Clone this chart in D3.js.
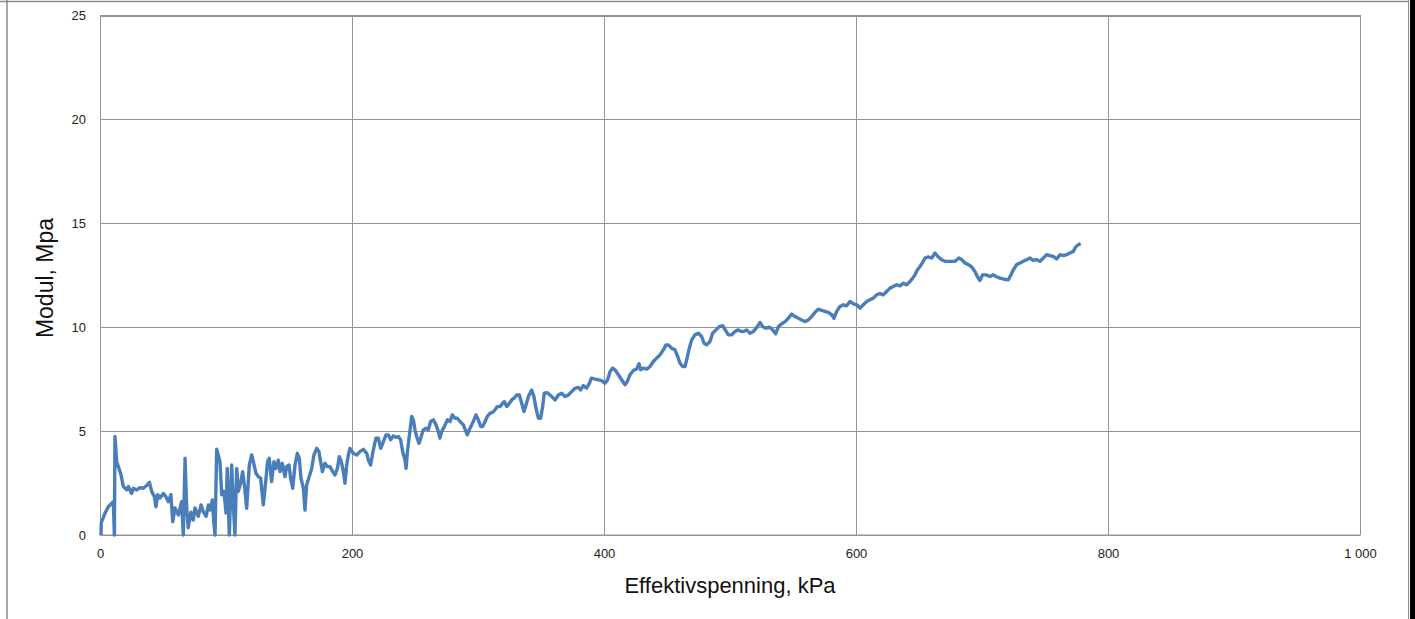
<!DOCTYPE html>
<html>
<head>
<meta charset="utf-8">
<script src="https://cdn.jsdelivr.net/npm/d3@7"></script>
<style>
html,body{margin:0;padding:0;background:#fff;}
svg{display:block;font-family:"Liberation Sans",Arial,sans-serif;}
</style>
</head>
<body>
<svg id="chart" width="1415" height="619"></svg>
<script>
const xTicks = [0, 200, 400, 600, 800, 1000];
const yTicks = [0, 5, 10, 15, 20, 25];
const xTitle = "Effektivspenning, kPa";
const yTitle = "Modul, Mpa";

const stress = [0.8,1,4,6.6,10.6,11.4,11.9,13.2,14.5,16.7,18.5,21.2,22.5,25.1,26.5,29.1,31.7,34.4,37,39.2,41,43.1,44.4,45.8,47.6,50.3,52.1,54.2,56.3,57.7,59.5,62.2,64.8,66.1,67.5,68.8,70,72.2,74,75.4,78,80.2,82,84.2,86,87.3,89.2,90.2,91.3,92.6,95.2,96.6,98.4,100,101,102.6,104.5,105.8,107.1,108.5,109.8,111.6,113.2,114.6,116.4,118.5,120.4,121.7,123.8,125.6,127.5,129.6,131.5,133,134.3,136.2,138,139.6,141.5,142.9,144.7,146.8,148.1,150,151.3,152.9,154.8,156.6,158.2,159.5,161.4,162.7,164,166.1,168,169.8,172,173.8,175.1,176.5,178.6,180.4,182.5,184.7,186.5,188.4,189.9,191.5,193.4,194.4,195.8,197.1,198.4,201,203.7,206.3,209,211.7,213,214.8,216.9,219,220.9,222.8,224.9,227,228.8,230.7,232.8,234.9,236.8,238.6,240.2,242.1,242.9,244,245.6,247.4,248.7,250,251.3,253.2,254.5,256.6,258.7,260.6,262.4,264.6,266.7,268.5,269.8,271.2,273.3,275.7,277.8,279.6,281.7,283.6,285.7,288.4,290.5,291.5,293.1,295,296.8,298.4,300.3,302.1,303.7,305.6,307.4,309.5,311.6,313.5,315.3,317.5,319.6,320.9,322.8,324.9,326.7,328.6,330.7,332.8,334.7,336.5,338.1,340,342.6,344.4,346,347.9,349.7,351.3,352.6,355,358.5,361.1,363.8,366.4,369,371.7,374.3,377,379.6,381.5,383.6,386.2,388.4,390,392.9,395.5,398.1,400.8,402.9,404.8,406.9,408.7,411.4,414,416.7,418.5,420.6,423.3,425.9,427.8,429.1,431.2,433.9,436.5,439.2,441.8,444.4,447.1,449.2,451.1,453.7,456.3,458.5,460.3,462.4,464.3,465.6,467.7,469.6,472.2,474.9,477.5,479.4,481.5,484.1,486.2,488.9,491.5,494.2,496,498.7,501.3,503.9,506.6,508.6,510.6,513.2,515.9,518.5,521.7,523.8,525.9,528.6,531.2,533.9,536.2,538.4,541,543.7,546.3,548.9,551.6,554.2,556.9,559.5,562.2,564.8,567.5,570.1,572.8,575.4,578,580.7,582.5,584.7,587.3,590,592.6,595.2,597.9,600.5,603.2,605.8,608.5,611.1,613.8,616.4,619,621.7,624.3,627,629.6,632.3,634.9,637.6,640.2,642.9,645,646.8,648.7,650.8,652.9,654.8,657.4,660.1,662.7,665.3,668,670.6,674.6,678.6,681.7,683.9,686.5,689.2,691.8,694.4,696.3,698.4,700.5,703.2,706.3,709,711.1,714.3,717.5,720.9,723,724.9,727.5,730.2,732.8,735.4,738.1,740.7,743.4,746,748.7,751.3,754,756.6,759.3,761.9,764.6,767.2,769.8,772.5,774.3,776.4,778.3];
const modulus = [0,0.6,1.05,1.36,1.6,0,4.74,3.53,3.3,2.89,2.33,2.17,2.33,2.0,2.25,2.17,2.28,2.25,2.38,2.54,2.1,1.86,1.36,1.94,1.78,2.0,1.86,1.6,1.94,0.64,1.3,0.96,1.6,0,3.69,1.3,0.35,1.1,0.72,1.3,0.9,1.45,1.12,0.9,1.45,1.2,1.69,0.72,0,4.13,3.53,1.93,2.1,1.06,3.2,0,3.37,1.45,0,3.2,2.1,2.49,3.05,2.41,1.28,3.37,3.85,3.53,2.97,2.81,2.73,1.45,2.57,3.53,3.69,2.57,3.53,3.2,3.6,3.05,3.45,2.81,3.29,3.37,2.73,2.25,3.37,3.93,3.69,2.73,2.25,1.2,2.41,2.81,3.2,3.85,4.17,4.01,3.53,3.05,3.45,3.29,3.29,3.05,2.89,3.2,3.77,3.53,2.97,2.49,3.37,3.85,4.17,3.93,3.85,4.01,4.12,3.93,3.61,3.37,4.09,4.66,4.66,4.17,4.49,4.82,4.82,4.58,4.77,4.7,4.74,4.58,4.01,3.61,3.21,4.01,4.82,5.7,5.54,5.06,4.74,4.41,4.66,5.06,5.14,5.06,5.46,5.54,5.3,4.98,4.66,4.98,5.22,5.54,5.46,5.78,5.62,5.62,5.46,5.3,4.98,4.82,5.06,5.3,5.54,5.78,5.54,5.22,5.22,5.46,5.7,5.86,5.9,6.02,6.18,6.18,6.34,6.42,6.18,6.34,6.5,6.58,6.74,6.74,6.34,5.94,6.26,6.66,6.98,6.66,6.1,5.62,5.62,6.18,6.82,6.85,6.66,6.5,6.74,6.82,6.66,6.74,6.9,7.06,7.11,6.98,7.19,7.06,7.3,7.55,7.5,7.47,7.43,7.3,7.47,7.87,8.03,7.95,7.71,7.47,7.23,7.39,7.71,7.92,7.98,8.24,7.95,8.03,7.98,8.11,8.35,8.51,8.67,8.91,9.15,9.15,8.99,8.91,8.59,8.27,8.11,8.11,8.43,8.99,9.39,9.63,9.71,9.55,9.23,9.15,9.31,9.71,9.87,10.03,10.07,9.9,9.63,9.63,9.79,9.87,9.8,9.79,9.87,9.71,9.79,10.03,10.23,10.03,9.95,10.0,9.87,9.68,10.03,10.16,10.27,10.43,10.63,10.51,10.43,10.35,10.27,10.35,10.51,10.72,10.87,10.81,10.76,10.71,10.6,10.43,10.76,11.0,11.08,11.03,11.24,11.12,11.08,10.92,11.08,11.24,11.32,11.4,11.56,11.62,11.56,11.72,11.88,11.96,12.04,11.99,12.12,12.04,12.2,12.36,12.52,12.76,12.92,13.12,13.33,13.38,13.33,13.57,13.38,13.25,13.17,13.17,13.17,13.33,13.25,13.09,13.01,12.9,12.68,12.44,12.25,12.52,12.52,12.44,12.52,12.44,12.36,12.31,12.28,12.52,12.76,13.01,13.09,13.17,13.25,13.33,13.22,13.25,13.17,13.33,13.49,13.44,13.41,13.28,13.49,13.44,13.49,13.57,13.65,13.86,13.97,14.02];

const svg = d3.select("#chart");
const W = 1415, H = 619;
const pLeft = 100, pRight = 1360, pTop = 15.5, pBottom = 535;

// outer frame
svg.append("line").attr("x1",7).attr("x2",7).attr("y1",0).attr("y2",H).attr("stroke","#8a8a8a").attr("stroke-width",1.5);
svg.append("line").attr("x1",0).attr("x2",1409).attr("y1",1.5).attr("y2",1.5).attr("stroke","#8a8a8a").attr("stroke-width",1.5);
svg.append("line").attr("x1",1408.5).attr("x2",1408.5).attr("y1",0).attr("y2",H).attr("stroke","#8a8a8a").attr("stroke-width",1);
svg.append("rect").attr("x",1410).attr("y",0).attr("width",5).attr("height",H).attr("fill","#000");

const x = d3.scaleLinear().domain([0,1000]).range([pLeft,pRight]);
const y = d3.scaleLinear().domain([0,25]).range([pBottom,pTop]);

// grid
svg.append("g").selectAll("line").data(xTicks).join("line")
  .attr("x1",d=>Math.round(x(d))+0.5).attr("x2",d=>Math.round(x(d))+0.5)
  .attr("y1",pTop).attr("y2",pBottom).attr("stroke","#949494").attr("stroke-width",1);
svg.append("g").selectAll("line").data(yTicks).join("line")
  .attr("x1",pLeft).attr("x2",pRight)
  .attr("y1",d=>Math.round(y(d))+0.5).attr("y2",d=>Math.round(y(d))+0.5).attr("stroke","#949494").attr("stroke-width",1);
svg.append("rect").attr("x",pLeft+0.5).attr("y",pTop).attr("width",pRight-pLeft).attr("height",pBottom-pTop)
  .attr("fill","none").attr("stroke","#949494").attr("stroke-width",1);

const fmt = d => d >= 1000 ? d3.format(",")(d).replace(",", " ") : String(d);

const xAxis = svg.append("g").attr("transform",`translate(0,${pBottom})`)
  .call(d3.axisBottom(x).tickValues(xTicks).tickSize(0).tickPadding(14).tickFormat(fmt));
const yAxis = svg.append("g").attr("transform",`translate(${pLeft},0)`)
  .call(d3.axisLeft(y).tickValues(yTicks).tickSize(0).tickPadding(14).tickFormat(fmt));
[xAxis,yAxis].forEach(a=>{
  a.select(".domain").remove();
  a.selectAll("text").attr("font-family","Liberation Sans, Arial, sans-serif").attr("font-size",13).attr("fill","#222");
});

const n = Math.min(stress.length, modulus.length);
const pts = d3.range(n).map(i=>[stress[i], modulus[i]]);
svg.append("path").datum(pts)
  .attr("fill","none").attr("stroke","#4a7ebb").attr("stroke-width",3.4).attr("stroke-linejoin","round")
  .attr("d", d3.line().x(d=>x(d[0])).y(d=>y(d[1])));

svg.append("text").attr("x",730).attr("y",593).attr("text-anchor","middle")
  .attr("font-size",22).attr("fill","#111").text(xTitle);
svg.append("text").attr("transform","translate(53,278) rotate(-90)").attr("text-anchor","middle")
  .attr("font-size",23).attr("fill","#111").text(yTitle);
</script>
</body>
</html>
